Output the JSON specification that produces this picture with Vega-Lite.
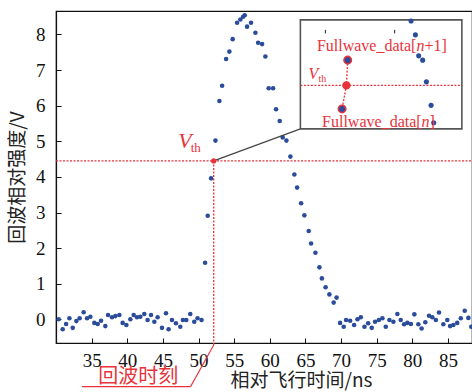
{
  "$schema": "https://vega.github.io/schema/vega-lite/v6.json",
  "width": 416,
  "height": 332,
  "autosize": {"type": "none"},
  "padding": {"left": 56, "top": 11, "right": 0, "bottom": 49},
  "background": "white",
  "config": {
    "view": {"stroke": "#111", "strokeWidth": 1.2},
    "axis": {
      "grid": false,
      "domainColor": "#111",
      "domainWidth": 1.2,
      "tickColor": "#111",
      "tickSize": -5,
      "labelFont": "Liberation Serif",
      "labelFontSize": 19,
      "labelColor": "#111",
      "titleFont": "Noto Sans CJK SC",
      "titleFontSize": 19,
      "titleFontWeight": "normal",
      "titleColor": "#222"
    }
  },
  "datasets": {
    "main": [
      {"t": 30.38, "v": 0.0}, {"t": 30.94, "v": -0.28}, {"t": 31.42, "v": -0.13}, {"t": 31.88, "v": 0.03},
      {"t": 32.35, "v": -0.24}, {"t": 32.86, "v": -0.05}, {"t": 33.32, "v": 0.03}, {"t": 33.88, "v": 0.2},
      {"t": 34.36, "v": 0.03}, {"t": 34.82, "v": 0.07}, {"t": 35.38, "v": -0.1}, {"t": 35.85, "v": -0.13},
      {"t": 36.32, "v": -0.04}, {"t": 36.92, "v": -0.19}, {"t": 37.3, "v": 0.12}, {"t": 37.86, "v": 0.06},
      {"t": 38.33, "v": 0.09}, {"t": 38.89, "v": 0.12}, {"t": 39.35, "v": -0.1}, {"t": 39.87, "v": -0.16},
      {"t": 40.43, "v": 0.0}, {"t": 40.9, "v": 0.12}, {"t": 41.37, "v": 0.06}, {"t": 41.83, "v": 0.07},
      {"t": 42.39, "v": 0.15}, {"t": 42.85, "v": -0.02}, {"t": 43.33, "v": 0.12}, {"t": 43.8, "v": -0.07},
      {"t": 44.26, "v": 0.06}, {"t": 44.87, "v": -0.24}, {"t": 45.43, "v": 0.17}, {"t": 45.8, "v": -0.28},
      {"t": 46.27, "v": -0.02}, {"t": 46.83, "v": -0.11}, {"t": 47.44, "v": -0.21}, {"t": 47.81, "v": -0.02},
      {"t": 48.28, "v": -0.02}, {"t": 48.84, "v": 0.15}, {"t": 49.4, "v": -0.07}, {"t": 49.86, "v": 0.03},
      {"t": 50.42, "v": -0.02}, {"t": 50.92, "v": 1.59}, {"t": 51.29, "v": 2.91}, {"t": 51.76, "v": 3.96},
      {"t": 52.37, "v": 5.02}, {"t": 52.93, "v": 6.13}, {"t": 53.31, "v": 6.56}, {"t": 53.87, "v": 7.31},
      {"t": 54.33, "v": 7.52}, {"t": 54.79, "v": 7.87}, {"t": 55.41, "v": 8.33}, {"t": 55.87, "v": 8.42},
      {"t": 56.25, "v": 8.5}, {"t": 56.48, "v": 8.54}, {"t": 56.81, "v": 8.22}, {"t": 57.37, "v": 8.33},
      {"t": 57.98, "v": 8.05}, {"t": 58.36, "v": 7.77}, {"t": 58.92, "v": 7.73}, {"t": 59.38, "v": 7.38},
      {"t": 59.84, "v": 6.49}, {"t": 60.46, "v": 6.49}, {"t": 60.88, "v": 5.9}, {"t": 61.39, "v": 5.57},
      {"t": 61.81, "v": 5.11}, {"t": 62.33, "v": 5.02}, {"t": 62.89, "v": 4.57}, {"t": 63.45, "v": 4.07},
      {"t": 63.83, "v": 3.7}, {"t": 64.39, "v": 3.26}, {"t": 64.85, "v": 2.92}, {"t": 65.46, "v": 2.48},
      {"t": 65.79, "v": 2.13}, {"t": 66.4, "v": 1.87}, {"t": 66.96, "v": 1.46}, {"t": 67.31, "v": 1.15},
      {"t": 67.83, "v": 0.9}, {"t": 68.36, "v": 0.7}, {"t": 68.96, "v": 0.47}, {"t": 69.37, "v": 0.61},
      {"t": 69.86, "v": -0.1}, {"t": 70.37, "v": -0.21}, {"t": 70.7, "v": -0.02}, {"t": 71.27, "v": -0.04},
      {"t": 71.83, "v": -0.16}, {"t": 72.3, "v": 0.0}, {"t": 72.77, "v": 0.06}, {"t": 73.28, "v": -0.21},
      {"t": 73.8, "v": -0.11}, {"t": 74.3, "v": -0.24}, {"t": 74.77, "v": -0.07}, {"t": 75.3, "v": -0.02},
      {"t": 75.8, "v": 0.03}, {"t": 76.27, "v": -0.21}, {"t": 76.78, "v": -0.02}, {"t": 77.34, "v": -0.07},
      {"t": 77.9, "v": 0.15}, {"t": 78.37, "v": -0.02}, {"t": 78.84, "v": -0.14}, {"t": 79.3, "v": -0.1},
      {"t": 79.8, "v": -0.13}, {"t": 80.28, "v": 0.14}, {"t": 80.84, "v": -0.14}, {"t": 81.3, "v": -0.26},
      {"t": 81.82, "v": -0.08}, {"t": 82.34, "v": 0.1}, {"t": 82.8, "v": 0.06}, {"t": 83.3, "v": -0.02},
      {"t": 83.74, "v": 0.19}, {"t": 84.35, "v": -0.14}, {"t": 84.9, "v": -0.02}, {"t": 85.3, "v": -0.19},
      {"t": 85.76, "v": -0.16}, {"t": 86.3, "v": -0.1}, {"t": 86.8, "v": 0.03}, {"t": 87.35, "v": 0.24},
      {"t": 87.86, "v": 0.04}, {"t": 88.27, "v": -0.21}
    ]
  },
  "encoding": {
    "x": {"type": "quantitative", "scale": {"domain": [30, 88.37], "nice": false, "zero": false}},
    "y": {"type": "quantitative", "scale": {"domain": [-0.665, 8.66], "nice": false, "zero": false}}
  },
  "layer": [
    {
      "data": {"name": "main"},
      "mark": {"type": "circle", "size": 21, "color": "#2b4c9b", "opacity": 1},
      "encoding": {
        "x": {"field": "t", "type": "quantitative",
          "axis": {"values": [35, 40, 45, 50, 55, 60, 65, 70, 75, 80, 85], "labelPadding": 13,
            "title": "相对飞行时间/ns", "titleX": 245, "titleY": 37, "titleBaseline": "middle", "titleAnchor": "middle"}},
        "y": {"field": "v", "type": "quantitative",
          "axis": {"values": [0, 1, 2, 3, 4, 5, 6, 7, 8], "labelPadding": 16,
            "title": "回波相对强度/V", "titleX": -39, "titleBaseline": "middle", "titleAnchor": "middle"}}
      }
    },
    {
      "data": {"values": [
        {"x1": 30, "y1": 4.45, "x2": 88.37, "y2": 4.45},
        {"x1": 52.13, "y1": 4.45, "x2": 52.13, "y2": -0.72}
      ]},
      "mark": {"type": "rule", "color": "#e8333b", "strokeWidth": 1.3, "strokeDash": [2, 1.5], "clip": false},
      "encoding": {
        "x": {"field": "x1", "type": "quantitative"}, "y": {"field": "y1", "type": "quantitative"},
        "x2": {"field": "x2"}, "y2": {"field": "y2"}
      }
    },
    {
      "data": {"values": [
        {"x1": 52.13, "y1": -0.72, "x2": 48.88, "y2": -1.89},
        {"x1": 48.88, "y1": -1.89, "x2": 33.66, "y2": -1.89}
      ]},
      "mark": {"type": "rule", "color": "#e8333b", "strokeWidth": 1.1, "clip": false},
      "encoding": {
        "x": {"field": "x1", "type": "quantitative"}, "y": {"field": "y1", "type": "quantitative"},
        "x2": {"field": "x2"}, "y2": {"field": "y2"}
      }
    },
    {
      "data": {"values": [{"x1": 52.13, "y1": 4.45, "x2": 64.29, "y2": 5.35}]},
      "mark": {"type": "rule", "color": "#444", "strokeWidth": 1.2},
      "encoding": {
        "x": {"field": "x1", "type": "quantitative"}, "y": {"field": "y1", "type": "quantitative"},
        "x2": {"field": "x2"}, "y2": {"field": "y2"}
      }
    },
    {
      "data": {"values": [{"t": 52.13, "v": 4.45}]},
      "mark": {"type": "circle", "size": 28, "color": "#e8333b", "opacity": 1},
      "encoding": {"x": {"field": "t", "type": "quantitative"}, "y": {"field": "v", "type": "quantitative"}}
    },
    {
      "data": {"values": [{"x1": 64.29, "x2": 86.95, "y1": 8.41, "y2": 5.35}]},
      "mark": {"type": "rect", "fill": "white", "stroke": "#555", "strokeWidth": 1.6},
      "encoding": {
        "x": {"field": "x1", "type": "quantitative"}, "y": {"field": "y1", "type": "quantitative"},
        "x2": {"field": "x2"}, "y2": {"field": "y2"}
      }
    },
    {
      "data": {"values": [
        {"x1": 67.8, "y1": 8.13, "x2": 67.8, "y2": 8.03},
        {"x1": 77.52, "y1": 8.13, "x2": 77.52, "y2": 8.03}
      ]},
      "mark": {"type": "rule", "color": "#222", "strokeWidth": 1},
      "encoding": {
        "x": {"field": "x1", "type": "quantitative"}, "y": {"field": "y1", "type": "quantitative"},
        "x2": {"field": "x2"}, "y2": {"field": "y2"}
      }
    },
    {
      "data": {"values": [
        {"x1": 64.29, "y1": 6.57, "x2": 86.95, "y2": 6.57},
        {"x1": 70.93, "y1": 7.28, "x2": 70.75, "y2": 6.57},
        {"x1": 70.75, "y1": 6.57, "x2": 70.14, "y2": 5.91}
      ]},
      "mark": {"type": "rule", "color": "#e8333b", "strokeWidth": 1.3, "strokeDash": [2, 1.5]},
      "encoding": {
        "x": {"field": "x1", "type": "quantitative"}, "y": {"field": "y1", "type": "quantitative"},
        "x2": {"field": "x2"}, "y2": {"field": "y2"}
      }
    },
    {
      "data": {"values": [{"t": 70.93, "v": 7.28}, {"t": 70.14, "v": 5.91}]},
      "mark": {"type": "point", "shape": "circle", "size": 55, "filled": true, "fill": "#2b4c9b", "stroke": "#e8333b", "strokeWidth": 1.6, "opacity": 1},
      "encoding": {"x": {"field": "t", "type": "quantitative"}, "y": {"field": "v", "type": "quantitative"}}
    },
    {
      "data": {"values": [
        {"t": 79.82, "v": 8.38}, {"t": 80.43, "v": 7.99}, {"t": 80.89, "v": 7.4}, {"t": 81.45, "v": 7.28},
        {"t": 81.97, "v": 6.67}, {"t": 82.63, "v": 6.01}, {"t": 83.0, "v": 5.52}
      ]},
      "mark": {"type": "circle", "size": 26, "color": "#2b4c9b", "opacity": 1},
      "encoding": {"x": {"field": "t", "type": "quantitative"}, "y": {"field": "v", "type": "quantitative"}}
    },
    {
      "data": {"values": [{"t": 70.75, "v": 6.57}]},
      "mark": {"type": "circle", "size": 70, "color": "#e8333b", "opacity": 1},
      "encoding": {"x": {"field": "t", "type": "quantitative"}, "y": {"field": "v", "type": "quantitative"}}
    },
    {
      "data": {"values": [
        {"x": 80.57, "y": 7.69, "label": "Fullwave_data["},
        {"x": 81.3, "y": 5.53, "label": "Fullwave_data["}
      ]},
      "mark": {"type": "text", "font": "Liberation Serif", "fontSize": 16, "color": "#e8333b", "align": "right", "baseline": "middle"},
      "encoding": {"x": {"field": "x", "type": "quantitative"}, "y": {"field": "y", "type": "quantitative"}, "text": {"field": "label"}}
    },
    {
      "data": {"values": [
        {"x": 81.13, "y": 7.69, "label": "n"},
        {"x": 81.86, "y": 5.53, "label": "n"}
      ]},
      "mark": {"type": "text", "font": "Liberation Serif", "fontSize": 16, "fontStyle": "italic", "color": "#e8333b", "align": "center", "baseline": "middle"},
      "encoding": {"x": {"field": "x", "type": "quantitative"}, "y": {"field": "y", "type": "quantitative"}, "text": {"field": "label"}}
    },
    {
      "data": {"values": [
        {"x": 81.69, "y": 7.69, "label": "+1]"},
        {"x": 82.42, "y": 5.53, "label": "]"}
      ]},
      "mark": {"type": "text", "font": "Liberation Serif", "fontSize": 16, "color": "#e8333b", "align": "left", "baseline": "middle"},
      "encoding": {"x": {"field": "x", "type": "quantitative"}, "y": {"field": "y", "type": "quantitative"}, "text": {"field": "label"}}
    },
    {
      "data": {"values": [{"x": 48.09, "y": 5.02, "label": "V"}]},
      "mark": {"type": "text", "font": "Liberation Serif", "fontSize": 22, "fontStyle": "italic", "color": "#e8333b", "align": "center", "baseline": "middle"},
      "encoding": {"x": {"field": "x", "type": "quantitative"}, "y": {"field": "y", "type": "quantitative"}, "text": {"field": "label"}}
    },
    {
      "data": {"values": [{"x": 49.6, "y": 4.8, "label": "th"}]},
      "mark": {"type": "text", "font": "Liberation Serif", "fontSize": 13, "color": "#e8333b", "align": "center", "baseline": "middle"},
      "encoding": {"x": {"field": "x", "type": "quantitative"}, "y": {"field": "y", "type": "quantitative"}, "text": {"field": "label"}}
    },
    {
      "data": {"values": [{"x": 66.13, "y": 6.89, "label": "V"}]},
      "mark": {"type": "text", "font": "Liberation Serif", "fontSize": 16, "fontStyle": "italic", "color": "#e8333b", "align": "center", "baseline": "middle"},
      "encoding": {"x": {"field": "x", "type": "quantitative"}, "y": {"field": "y", "type": "quantitative"}, "text": {"field": "label"}}
    },
    {
      "data": {"values": [{"x": 67.38, "y": 6.74, "label": "th"}]},
      "mark": {"type": "text", "font": "Liberation Serif", "fontSize": 10, "color": "#e8333b", "align": "center", "baseline": "middle"},
      "encoding": {"x": {"field": "x", "type": "quantitative"}, "y": {"field": "y", "type": "quantitative"}, "text": {"field": "label"}}
    },
    {
      "data": {"values": [{"x": 41.55, "y": -1.63, "label": "回波时刻"}]},
      "mark": {"type": "text", "font": "Noto Sans CJK SC", "fontSize": 20, "color": "#e8333b", "align": "center", "baseline": "middle", "clip": false},
      "encoding": {"x": {"field": "x", "type": "quantitative"}, "y": {"field": "y", "type": "quantitative"}, "text": {"field": "label"}}
    }
  ]
}
